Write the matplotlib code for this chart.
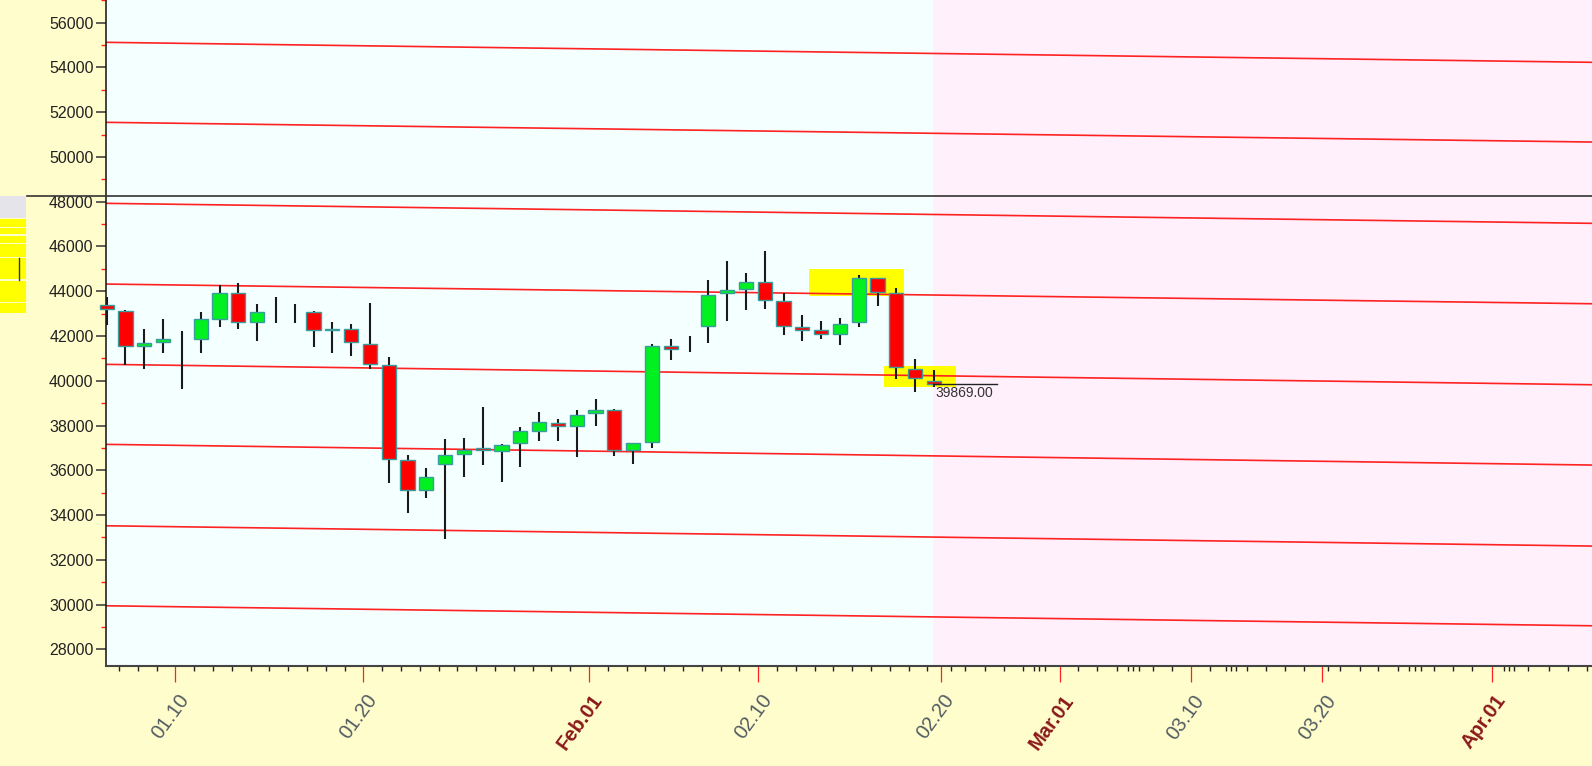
import matplotlib
matplotlib.use("Agg")
import matplotlib.pyplot as plt
from matplotlib.patches import Rectangle
from matplotlib.lines import Line2D
from matplotlib.transforms import blended_transform_factory, offset_copy
import pandas as pd

plt.rcParams['font.family'] = ['Liberation Sans', 'DejaVu Sans']

# ---------------- data ----------------
dates = pd.date_range('2022-01-06', '2022-02-19', freq='D')
opens = [43400, 43130, 41550, 41720, 41850, 41870, 42760, 43910, 42620, 43100,
         43000, 43060, 42250, 42330, 41660, 40710, 36450, 35110, 36280, 36730,
         37000, 36870, 37220, 37750, 38120, 37960, 38540, 38690, 36900, 37270,
         41550, 41650, 42440, 43910, 44120, 44400, 43580, 42400, 42260, 42090,
         42610, 44570, 43930, 40540, 39990]
highs = [43760, 43150, 42300, 42750, 42240, 43090, 44290, 44360, 43420, 43760,
         43430, 43130, 42640, 42540, 43470, 41060, 36700, 36080, 37390, 37420,
         38840, 37160, 37940, 38610, 38270, 38690, 39170, 38760, 37230, 41630,
         41850, 42020, 44480, 45370, 44820, 45820, 43930, 42960, 42690, 42790,
         44720, 44570, 44140, 40960, 40480]
lows = [42490, 40700, 40510, 41250, 39630, 41250, 42420, 42300, 41790, 42600,
        42600, 41520, 41250, 41120, 40510, 35430, 34090, 34760, 32910, 35700,
        36230, 35480, 36150, 37330, 37310, 36600, 37990, 36640, 36270, 37000,
        40930, 41300, 41700, 42690, 43150, 43200, 42030, 41760, 41870, 41600,
        42420, 43360, 40090, 39490, 39730]
closes = [43200, 41550, 41670, 41850, 41850, 42750, 43910, 42620, 43060, 43100,
          43000, 42270, 42320, 41720, 40750, 36510, 35110, 35690, 36690, 36900,
          36900, 37140, 37760, 38150, 37970, 38460, 38700, 36900, 37230, 41570,
          41430, 41650, 43850, 44070, 44400, 43610, 42450, 42270, 42100, 42550,
          44570, 43960, 40600, 40110, 39869]

last_price = 39869.00

# descending channel levels (value at left edge, value at right edge)
level_left = [55123, 51548, 47928, 44321, 40733, 37158, 33520, 29945]
level_right = [54229, 50667, 47034, 43441, 39821, 36233, 32613, 29051]

# highlighted zones: (x0, x1, y0, y1) in candle slots / price
zones_x0 = [37.36, 41.35]
zones_x1 = [42.41, 45.16]
zones_y0 = [43785, 39732]
zones_y1 = [44992, 40657]

# x axis labels (slot positions)
major_labels = ['01.10', '01.20', 'Feb.01', '02.10', '02.20', 'Mar.01', '03.10', '03.20', 'Apr.01']
major_pos = [3.65, 13.65, 25.65, 34.65, 44.35, 50.68, 57.66, 64.65, 73.68]
future_minor = [44.90, 45.65, 46.70, 47.71, 48.71, 49.31, 49.59, 49.91,
                51.65, 52.67, 53.72, 54.32, 54.60, 54.88, 55.65, 56.64,
                58.68, 59.51, 59.78, 60.05, 60.66, 61.65, 62.67, 63.69,
                64.96, 65.62, 66.66, 67.63, 68.67, 69.28, 69.56, 69.92,
                70.57, 71.62, 72.64, 74.30, 74.60, 74.87, 75.62, 76.72,
                77.74, 78.73]

# ---------------- figure ----------------
W, H = 1592, 766
fig = plt.figure(figsize=(W / 100, H / 100), dpi=100, facecolor='#FFFDCC')
ax = fig.add_axes([105.7 / W, 100.3 / H, 1 - 105.7 / W, 1 - 100.3 / H])
ax.set_facecolor('#F4FFFF')

XMIN, XMAX = -0.053, 79.0
ax.set_xlim(XMIN, XMAX)
ax.set_ylim(27267, 57014)

# future zone
ax.axvspan(43.97, XMAX, facecolor='#FFF0FB', edgecolor='none', zorder=0)

# highlight zones
for x0, x1, y0, y1 in zip(zones_x0, zones_x1, zones_y0, zones_y1):
    ax.add_patch(Rectangle((x0, y0), x1 - x0, y1 - y0, facecolor='#FFFF00',
                           edgecolor='none', zorder=1.5))

# channel levels
for yl, yr in zip(level_left, level_right):
    ax.plot([XMIN, XMAX], [yl, yr], color='#FF2222', lw=1.2, zorder=2)

# candles
bw = 0.76
for i, (o, h, l, c) in enumerate(zip(opens, highs, lows, closes)):
    ax.plot([i, i], [l, h], color='#1A1A1A', lw=1.5, zorder=3, clip_on=False,
            solid_capstyle='butt')
    if o != c:
        col = '#00F020' if c > o else '#FF0000'
        ax.add_patch(Rectangle((i - bw / 2, min(o, c)), bw, abs(c - o),
                               facecolor=col, edgecolor='#3A9D9D', lw=1.0,
                               zorder=4, clip_on=False))

# last price marker
ax.plot([43.95, 47.34], [last_price, last_price], color='#222222', lw=1.0, zorder=5)
tp = offset_copy(ax.transData, fig=fig, x=0, y=-2, units='dots')
ax.text(44.06, last_price, f'{last_price:.2f}', transform=tp, fontsize=10,
        color='#333333', ha='left', va='top', zorder=6)

# y axis
ax.set_yticks(list(range(28000, 56001, 2000)))
ax.set_yticks([v for v in range(28000, 57001, 1000) if v % 2000], minor=True)
ax.tick_params(axis='y', which='major', length=7.2, width=1.1, color='#333333',
               pad=1.5, labelsize=11.5, labelcolor='#222222')
ax.tick_params(axis='y', which='minor', length=3.4, width=1.0, color='#FF2222')

# x axis
hist_minor = [k + 0.65 for k in range(0, 44)]
minor_all = [p for p in hist_minor + future_minor
             if all(abs(p - m) > 0.2 for m in major_pos)]
ax.set_xticks(major_pos)
ax.set_xticks(minor_all, minor=True)
ax.tick_params(axis='x', which='major', length=11.5, width=0.9, color='#FF2222',
               labelbottom=False)
ax.tick_params(axis='x', which='minor', length=3.6, width=1.0, color='#222222')

trans = blended_transform_factory(ax.transData, ax.transAxes)
tlab = offset_copy(trans, fig=fig, x=10, y=-31, units='dots')
for pos, lab in zip(major_pos, major_labels):
    is_month = not lab[0].isdigit()
    ax.text(pos, 0, lab, transform=tlab, rotation=54, rotation_mode='anchor',
            ha='right', va='center', fontsize=14.5,
            color='#8B1A1A' if is_month else '#525C62',
            fontweight='bold' if is_month else 'normal')

for s in ['top', 'right']:
    ax.spines[s].set_visible(False)
ax.spines['left'].set_color('#111111')
ax.spines['left'].set_linewidth(1.1)
ax.spines['bottom'].set_color('#444444')
ax.spines['bottom'].set_linewidth(1.5)

# panel separator
fig.add_artist(Line2D([27 / W, 1], [1 - 196 / H] * 2, color='#333333', lw=1.2,
                      transform=fig.transFigure))


def frect(x0, y0, x1, y1, color):
    fig.add_artist(Rectangle((x0 / W, 1 - y1 / H), (x1 - x0) / W, (y1 - y0) / H,
                             transform=fig.transFigure, facecolor=color,
                             edgecolor='none'))


# small side widget
frect(0, 196, 26, 218, '#E4E4EA')
for y0, y1 in [(219.3, 226.7), (228.3, 234), (236, 243), (244, 256.7),
               (258, 279.3), (281, 301.7), (303.3, 312.7)]:
    frect(0, y0, 26, y1, '#FFFF00')
fig.add_artist(Line2D([19.3 / W] * 2, [1 - 258.3 / H, 1 - 280 / H], color='#333333',
                      lw=1.0, transform=fig.transFigure))

fig.savefig('out.png', dpi=100, facecolor=fig.get_facecolor())
